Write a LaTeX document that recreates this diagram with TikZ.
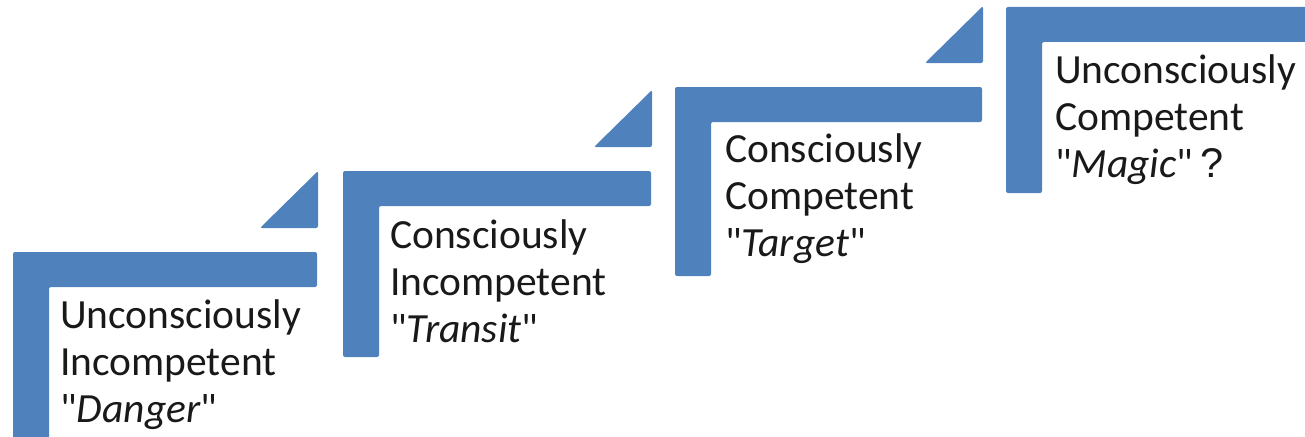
\documentclass[tikz,border=0pt]{standalone}
\usepackage{fontspec}
\setmainfont{Carlito}[Ligatures=TeXOff]
\newfontfamily\qmarkfont{Liberation Sans}
\definecolor{stepblue}{RGB}{79,129,189}
\definecolor{steptextcol}{RGB}{25,25,25}

% one stair: left x, top y, right x, bottom y of the L-shaped bar,
% plus the small triangle sitting above its right end
\newcommand\stairstep[4]{%
  \fill[stepbar] (#1,#2) -- (#3,#2) -- (#3,#2+35) -- (#1+36,#2+35)
    -- (#1+36,#4) -- (#1,#4) -- cycle;
  \fill[stepbar] (#3-57,#2-24) -- (#3+1,#2-81) -- (#3+1,#2-24) -- cycle;
}

\begin{document}
\begin{tikzpicture}[x=1pt,y=-1pt,
  stepbar/.style={fill=stepblue, rounded corners=2pt},
  steptext/.style={anchor=base west, align=left, inner sep=0pt,
    font=\fontsize{41.5}{47}\selectfont, text=steptextcol}]
\useasboundingbox (0,0) rectangle (1305,436);
\clip (0,0) rectangle (1305,436);

\stairstep{13}{252}{317}{440}
\stairstep{343}{171}{651}{357}
\stairstep{675}{87}{982}{276}
\fill[stepbar] (1006,7) -- (1310,7) -- (1310,42) -- (1042,42)
  -- (1042,193) -- (1006,193) -- cycle;

% the anchor sits on the baseline of the last line
\node[steptext] (danger) at (60,422)
  {Unconsciously\\Incompetent\\"\textit{Danger}"};
\node[steptext] (transit) at (390,342)
  {Consciously\\Incompetent\\"\textit{Transit}"};
\node[steptext] (target) at (725,256)
  {Consciously\\Competent\\"\textit{Target}"};
\node[steptext] (magic) at (1055,177)
  {Unconsciously\\Competent\\"\textit{Magic}"\,{\qmarkfont ?}};
\end{tikzpicture}
\end{document}
